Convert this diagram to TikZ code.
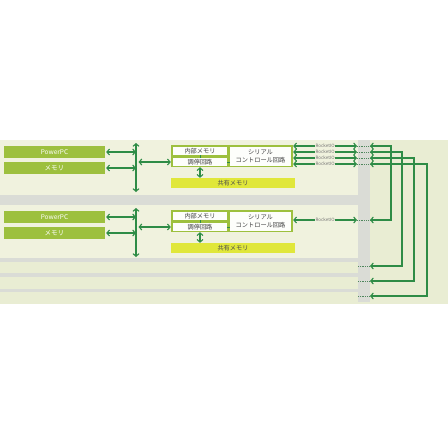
\documentclass[tikz,border=0pt]{standalone}
\usepackage{fontspec}
\usepackage{xcolor}
\usepackage{tikz}
\usetikzlibrary{arrows.meta}
\usetikzlibrary{positioning}
\newfontfamily\jp{Noto Sans CJK JP}
\definecolor{ground}{RGB}{233,237,211}
\definecolor{unitground}{RGB}{240,242,222}
\definecolor{band}{RGB}{218,220,214}
\definecolor{boxgreen}{RGB}{157,192,62}
\definecolor{shared}{RGB}{224,231,58}
\definecolor{linkgreen}{RGB}{46,140,70}
\tikzset{
  blk/.style={fill=boxgreen, text=white, minimum width=101pt, minimum height=12pt, inner sep=0pt, font=\jp\fontsize{6.5}{7}\selectfont},
  ctrl/.style={fill=boxgreen, minimum width=122pt, minimum height=22pt, inner sep=0pt},
  sub/.style={fill=white!92!ground, text=black!75, inner sep=0pt, align=center, font=\jp\fontsize{6.2}{8}\selectfont},
  shm/.style={fill=shared, text=black!70, minimum width=124pt, minimum height=10pt, inner sep=0pt, font=\jp\fontsize{6.2}{7}\selectfont},
  wire/.style={draw=linkgreen, line width=1.1pt},
  tie/.style={draw=linkgreen, line width=0.8pt},
  gap/.style={draw=linkgreen!60!gray, densely dotted, line width=0.8pt},
  rio/.style={fill=unitground, text=black!55, inner sep=0.8pt, font=\jp\fontsize{4.5}{4.5}\selectfont},
  >={Straight Barb[length=2.6pt,width=6pt]}
}
\begin{document}
\begin{tikzpicture}[x=1pt,y=-1pt]
\useasboundingbox (0,0) rectangle (448,448);
% ground and bands
\fill[white] (0,0) rectangle (448,448);
\fill[ground] (0,140) rectangle (448,304);
\fill[unitground] (0,140) rectangle (358,195);
\fill[unitground] (0,205) rectangle (358,258);
\fill[band] (0,195) rectangle (358,205);
\fill[band] (358,140) rectangle (370,302);
\fill[band] (0,258) rectangle (358,262);
\fill[band] (0,273) rectangle (358,277);
\fill[band] (0,289) rectangle (358,292);

% unit A
\node[blk] (ppcA) at (54.5,152) {PowerPC};
\node[blk] (memA) at (54.5,168) {メモリ};
\coordinate (busAtop) at (136,143);
\coordinate (busAbot) at (136,192);
\node[ctrl] (ctrlA) at (232,156) {};
\node[sub, minimum width=54pt, minimum height=8pt] (intA) at (200,151) {内部メモリ};
\node[sub, minimum width=54pt, minimum height=8pt] (arbA) at (200,162) {調停回路};
\node[sub, minimum width=61pt, minimum height=19pt] (serA) at (260.5,156.5) {シリアル\\コントロール回路};
\node[shm] (shmA) at (233,183) {共有メモリ};
\draw[wire,<->] (busAtop) -- (busAbot);
\draw[wire,<->,shorten <=1pt] (ppcA.east) -- (ppcA.east -| busAtop);
\draw[wire,<->,shorten <=1pt] (memA.east) -- (memA.east -| busAtop);
\draw[wire,<->,shorten <=2.5pt] (arbA -| busAtop) -- (arbA -| ctrlA.west);
\draw[wire,<->] (ctrlA.south -| arbA) -- (shmA.north -| arbA);
\draw[tie] (intA) -- (arbA);
\draw[tie] (arbA.east) -- (arbA.east -| serA.west);

% unit B
\node[blk] (ppcB) at (54.5,217) {PowerPC};
\node[blk] (memB) at (54.5,233) {メモリ};
\coordinate (busBtop) at (136,208);
\coordinate (busBbot) at (136,257);
\node[ctrl] (ctrlB) at (232,221) {};
\node[sub, minimum width=54pt, minimum height=8pt] (intB) at (200,216) {内部メモリ};
\node[sub, minimum width=54pt, minimum height=8pt] (arbB) at (200,227) {調停回路};
\node[sub, minimum width=61pt, minimum height=19pt] (serB) at (260.5,221.5) {シリアル\\コントロール回路};
\node[shm] (shmB) at (233,248) {共有メモリ};
\draw[wire,<->] (busBtop) -- (busBbot);
\draw[wire,<->,shorten <=1pt] (ppcB.east) -- (ppcB.east -| busBtop);
\draw[wire,<->,shorten <=1pt] (memB.east) -- (memB.east -| busBtop);
\draw[wire,<->,shorten <=2.5pt] (arbB -| busBtop) -- (arbB -| ctrlB.west);
\draw[wire,<->] (ctrlB.south -| arbB) -- (shmB.north -| arbB);
\draw[tie] (intB) -- (arbB);
\draw[tie] (arbB.east) -- (arbB.east -| serB.west);

% RocketIO ports
\coordinate (gA1) at (357,146); \coordinate (hA1) at (370,146);
\coordinate (gA2) at (357,152); \coordinate (hA2) at (370,152);
\coordinate (gA3) at (357,158); \coordinate (hA3) at (370,158);
\coordinate (gA4) at (357,164); \coordinate (hA4) at (370,164);
\coordinate (gB) at (357,220); \coordinate (hB) at (370,220);
\coordinate (gC) at (358,266); \coordinate (hC) at (370,266);
\coordinate (gD) at (358,281); \coordinate (hD) at (370,281);
\coordinate (gE) at (358,296); \coordinate (hE) at (370,296);
\draw[wire,<->] (gA1 -| ctrlA.east) -- node[rio]{RocketIO} (gA1);
\draw[wire,<->] (gA2 -| ctrlA.east) -- node[rio]{RocketIO} (gA2);
\draw[wire,<->] (gA3 -| ctrlA.east) -- node[rio]{RocketIO} (gA3);
\draw[wire,<->] (gA4 -| ctrlA.east) -- node[rio]{RocketIO} (gA4);
\draw[wire,<->] (gB -| ctrlB.east) -- node[rio]{RocketIO} (gB);
\draw[gap] (gA1) -- (hA1);
\draw[gap] (gA2) -- (hA2);
\draw[gap] (gA3) -- (hA3);
\draw[gap] (gA4) -- (hA4);
\draw[gap] (gB) -- (hB);
\draw[gap] (gC) -- (hC);
\draw[gap] (gD) -- (hD);
\draw[gap] (gE) -- (hE);

% links between ports
\draw[wire,<->] (hA1) -- ++(21,0) |- (hB);
\draw[wire,<->] (hA2) -- ++(32,0) |- (hC);
\draw[wire,<->] (hA3) -- ++(44,0) |- (hD);
\draw[wire,<->] (hA4) -- ++(57,0) |- (hE);
\end{tikzpicture}
\end{document}
